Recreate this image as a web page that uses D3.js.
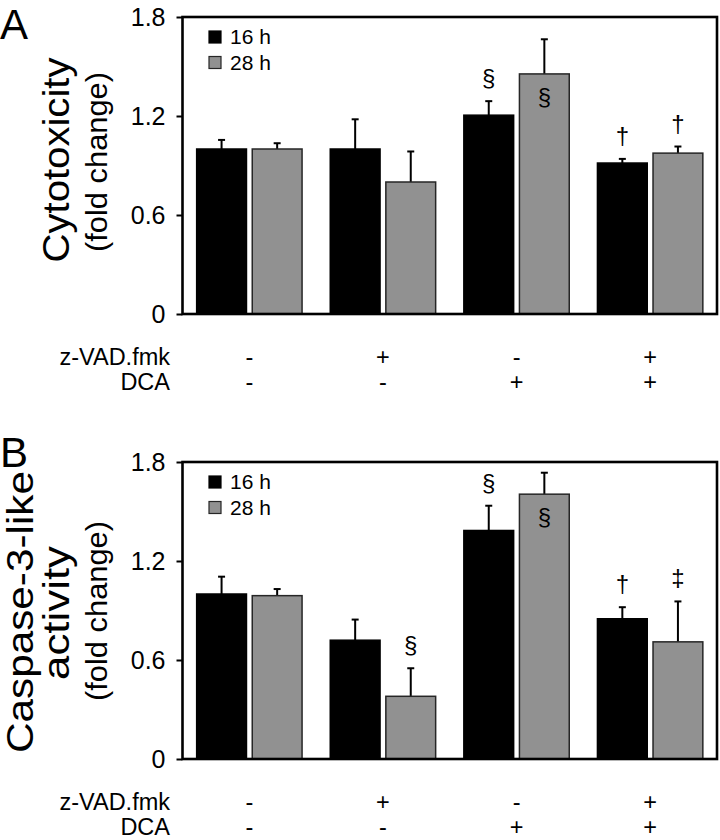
<!DOCTYPE html>
<html><head><meta charset="utf-8">
<script src="https://cdn.jsdelivr.net/npm/d3@7"></script>
<style>
body{margin:0;background:#fff}
svg{display:block;font-family:"Liberation Sans",Arial,Helvetica,sans-serif}
</style>
</head><body>
<svg id="chart" width="720" height="840"></svg>
<script>
// ---------------- data ----------------
const groups = ["1", "2", "3", "4"];
const seriesNames = ["16 h", "28 h"];
const zvadRow = ["-", "+", "-", "+"];
const dcaRow = ["-", "-", "+", "+"];
const rowLabels = ["z-VAD.fmk", "DCA"];
const yTicks = [0, 0.6, 1.2, 1.8];

const cytoMean16 = [1.00, 1.00, 1.205, 0.915];
const cytoMean28 = [1.00, 0.80, 1.455, 0.975];
const cytoErr16  = [0.055, 0.18, 0.085, 0.025];
const cytoErr28  = [0.035, 0.185, 0.21, 0.04];

const caspMean16 = [1.00, 0.72, 1.385, 0.85];
const caspMean28 = [0.99, 0.38, 1.605, 0.71];
const caspErr16  = [0.105, 0.125, 0.15, 0.07];
const caspErr28  = [0.04, 0.17, 0.13, 0.245];

// significance marks: [group index, series index, symbol, placement]
const cytoMarks = [[2, 0, "§", "above"], [2, 1, "§", "inside"], [3, 0, "†", "above"], [3, 1, "†", "above"]];
const caspMarks = [[1, 1, "§", "above"], [2, 0, "§", "above"], [2, 1, "§", "inside"], [3, 0, "†", "above"], [3, 1, "‡", "above"]];

// ---------------- drawing ----------------
const svg = d3.select("#chart");
const colors = ["#000000", "#919191"];
const strokes = ["#000000", "#262626"];

function panel(offY, letter, letterY, means, errs, marks, titles) {
  const g = svg.append("g").attr("transform", `translate(0,${offY})`);
  const left = 182.5, right = 717, top = 17, bottom = 314;
  const x0 = d3.scaleBand().domain(groups).range([left, right]).paddingInner(0.211).paddingOuter(0.106);
  const x1 = d3.scaleBand().domain([0, 1]).range([0, x0.bandwidth()]).paddingInner(0.104).paddingOuter(0);
  const y = d3.scaleLinear().domain([0, 1.8]).range([bottom, top]);

  const data = [];
  groups.forEach((gr, i) => {
    [0, 1].forEach(s => data.push({ gr, i, s, v: means[s][i], e: errs[s][i] }));
  });

  // error bars (upper half only)
  const eb = g.append("g");
  data.forEach(d => {
    const cx = x0(d.gr) + x1(d.s) + x1.bandwidth() / 2;
    eb.append("line").attr("x1", cx).attr("x2", cx).attr("y1", y(d.v)).attr("y2", y(d.v + d.e))
      .attr("stroke", "#000").attr("stroke-width", 2);
    eb.append("line").attr("x1", cx - 3.5).attr("x2", cx + 3.5).attr("y1", y(d.v + d.e)).attr("y2", y(d.v + d.e))
      .attr("stroke", "#000").attr("stroke-width", 2);
  });

  g.append("g").selectAll("rect").data(data).join("rect")
    .attr("x", d => x0(d.gr) + x1(d.s))
    .attr("width", x1.bandwidth())
    .attr("y", d => y(d.v))
    .attr("height", d => y(0) - y(d.v))
    .attr("fill", d => colors[d.s])
    .attr("stroke", d => strokes[d.s])
    .attr("stroke-width", 1.5);

  // frame
  g.append("rect").attr("x", left).attr("y", top).attr("width", right - left).attr("height", bottom - top)
    .attr("fill", "none").attr("stroke", "#000").attr("stroke-width", 2.6);

  // y axis
  const ax = g.append("g").attr("transform", `translate(${left},0)`)
    .call(d3.axisLeft(y).tickValues(yTicks).tickSize(6).tickPadding(11).tickFormat(d => d === 0 ? "0" : d3.format(".1f")(d)));
  ax.select(".domain").remove();
  ax.selectAll(".tick line").attr("stroke", "#000").attr("stroke-width", 2);
  ax.selectAll(".tick text").attr("font-size", 25).attr("fill", "#000")
    .attr("font-family", "'Liberation Sans',Arial,sans-serif");

  // significance marks
  marks.forEach(([gi, s, sym, place]) => {
    const cx = x0(groups[gi]) + x1(s) + x1.bandwidth() / 2;
    const v = means[s][gi], e = errs[s][gi];
    const cy = place === "above" ? y(v + e) - 22 : y(v) + 24;
    g.append("text").attr("x", cx).attr("y", cy + 7).attr("text-anchor", "middle")
      .attr("font-size", 24).attr("fill", "#000").text(sym);
  });

  // legend
  const lg = g.append("g");
  seriesNames.forEach((n, i) => {
    lg.append("rect").attr("x", 209).attr("y", 31 + i * 25.5).attr("width", 12).attr("height", 12)
      .attr("fill", colors[i]).attr("stroke", strokes[i]).attr("stroke-width", 1.2);
    lg.append("text").attr("x", 230).attr("y", 44 + i * 25.5).attr("font-size", 21).attr("fill", "#000").text(n);
  });

  // y titles
  titles.forEach(t => {
    g.append("text").attr("transform", `translate(${t.x},${t.cy}) rotate(-90)`)
      .attr("text-anchor", "middle").attr("font-size", t.fs).attr("fill", "#000")
      .attr("textLength", t.len).attr("lengthAdjust", "spacingAndGlyphs").text(t.text);
  });

  // treatment rows
  [zvadRow, dcaRow].forEach((row, r) => {
    const by = 365 + r * 25;
    g.append("text").attr("x", 170).attr("y", by).attr("text-anchor", "end").attr("font-size", 23.5).attr("fill", "#000").text(rowLabels[r]);
    row.forEach((sym, i) => {
      g.append("text").attr("x", x0(groups[i]) + x0.bandwidth() / 2).attr("y", by)
        .attr("text-anchor", "middle").attr("font-size", 23.5).attr("fill", "#000").text(sym);
    });
  });

  // panel letter
  g.append("text").attr("x", 0).attr("y", letterY).attr("font-size", 42).attr("fill", "#000").text(letter);
}

panel(0, "A", 39, [cytoMean16, cytoMean28], [cytoErr16, cytoErr28], cytoMarks, [
  { text: "Cytotoxicity", x: 69, cy: 160, len: 205, fs: 36 },
  { text: "(fold change)", x: 107, cy: 162, len: 180, fs: 30 }
]);
panel(445, "B", 22, [caspMean16, caspMean28], [caspErr16, caspErr28], caspMarks, [
  { text: "Caspase-3-like", x: 33, cy: 167, len: 282, fs: 36 },
  { text: "activity", x: 69, cy: 168, len: 134, fs: 36 },
  { text: "(fold change)", x: 107, cy: 166, len: 180, fs: 30 }
]);
</script>
</body></html>
